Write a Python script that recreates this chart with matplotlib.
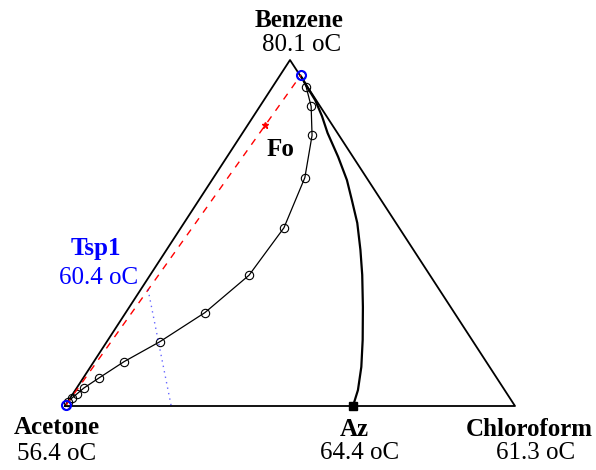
import numpy as np
import matplotlib
matplotlib.use("Agg")
import matplotlib.pyplot as plt

# mole fractions (benzene, chloroform); acetone = 1 - both
residue_xB = [0.956, 0.922, 0.866, 0.782, 0.660, 0.515, 0.378, 0.270, 0.186,
              0.128, 0.081, 0.052, 0.035, 0.023, 0.012, 0.003]
residue_xC = [0.046, 0.075, 0.114, 0.158, 0.203, 0.229, 0.220, 0.176, 0.118,
              0.067, 0.035, 0.016, 0.009, 0.004, 0.001, 0.001]

boundary_xB = [0.948, 0.919, 0.884, 0.838, 0.789, 0.720, 0.653, 0.595, 0.529,
               0.451, 0.379, 0.286, 0.191, 0.113, 0.046, 0.0]
boundary_xC = [0.053, 0.080, 0.114, 0.152, 0.189, 0.247, 0.300, 0.340, 0.385,
               0.431, 0.471, 0.519, 0.566, 0.602, 0.628, 0.640]

balance_xB = [0.003, 0.956]   # acetone product -> top product
balance_xC = [0.001, 0.046]
feed_xB, feed_xC = 0.811, 0.039
tsp_xB = [0.337, 0.0]
tsp_xC = [0.016, 0.236]
az_xC = 0.640

vertex_names = ["Acetone", "Chloroform", "Benzene"]
vertex_temps = ["56.4 oC", "61.3 oC", "80.1 oC"]
az_temp = "64.4 oC"
tsp_temp = "60.4 oC"


def tern(xB, xC):
    xB = np.asarray(xB, dtype=float)
    xC = np.asarray(xC, dtype=float)
    return xC + 0.5 * xB, xB


# pixel layout of the original picture (A=(65,406), C=(515,406), B top=(290,60))
W, H = 450.0, 346.0


def px(x, y):
    return (x - 65) / W, (406 - y) / H


fig = plt.figure(figsize=(5.96, 4.70), dpi=100)
ax = fig.add_axes([0, 0, 1, 1])
ax.set_xlim(-65 / W, 531 / W)
ax.set_ylim(-64 / H, 406 / H)
ax.axis("off")

# triangle
tx, ty = tern([0, 0, 1, 0], [0, 1, 0, 0])
ax.plot(tx, ty, color="black", lw=1.3)

# distillation boundary
bx, by = tern(boundary_xB, boundary_xC)
ax.plot(bx, by, color="black", lw=1.6)

# residue curve
rx, ry = tern(residue_xB, residue_xC)
ax.plot(rx, ry, color="black", lw=0.9, marker="o", ms=6, mfc="none", mew=0.8)

# mass balance line and feed
lx, ly = tern(balance_xB, balance_xC)
ax.plot(lx, ly, color="red", lw=1.0, ls=(0, (5, 5)))
fx, fy = tern(feed_xB, feed_xC)
ax.plot(fx, fy, marker="*", color="red", ms=5, ls="none")

# products
ax.plot(lx, ly, marker="o", ls="none", ms=6.5, mfc="none", mec="blue", mew=1.5)

# Tsp1 temperature line
sx, sy = tern(tsp_xB, tsp_xC)
ax.plot(sx, sy, color="blue", lw=1.0, ls=(0, (1, 3)), alpha=0.6)

# azeotrope
ax_, ay_ = tern(0.0, az_xC)
ax.plot(ax_, ay_, marker="s", color="black", ms=6, ls="none")

font = dict(family="Liberation Serif", fontsize=18, ha="center", va="center")
labels = [
    ("Benzene", vertex_temps[2], 299, 21, 302, 45, "black"),
    ("Acetone", vertex_temps[0], 57, 428, 57, 454, "black"),
    ("Az", az_temp, 354, 429, 360, 453, "black"),
    ("Chloroform", vertex_temps[1], 529, 429, 536, 453, "black"),
    ("Tsp1", tsp_temp, 96, 248, 99, 278, "blue"),
]
for name, temp, x1, y1, x2, y2, c in labels:
    ax.text(*px(x1, y1), name, fontweight="bold", color=c, **font)
    ax.text(*px(x2, y2), temp, color=c, **font)

ax.text(*px(280, 150), "Fo", fontweight="bold", color="black", **font)

fig.savefig("out.png", dpi=100)
